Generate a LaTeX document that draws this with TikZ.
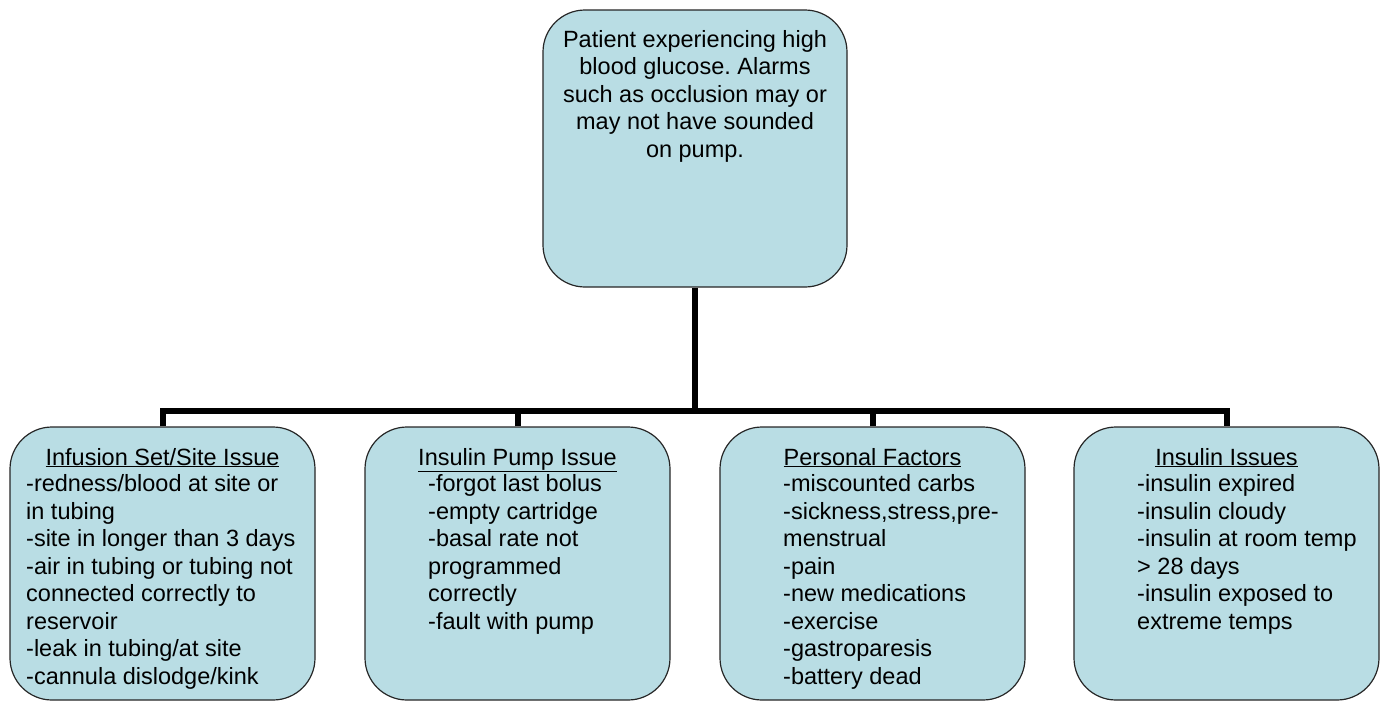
\documentclass[tikz,border=0pt]{standalone}
\usepackage{fontspec}
\setmainfont{Liberation Sans}
\frenchspacing
\definecolor{boxblue}{RGB}{185,221,228}
\begin{document}
\begin{tikzpicture}[x=1pt,y=-1pt,
  box/.style={draw=black!85, line width=1.2pt, fill=boxblue, rounded corners=42pt, inner sep=0pt, minimum width=305pt, minimum height=273pt},
  conn/.style={line width=6pt, draw=black, line join=miter},
  txt/.style={inner sep=0pt, font=\fontsize{23.5}{27.5}\selectfont}]
\useasboundingbox (0,0) rectangle (1385,702);
% boxes
\node[box, minimum width=304pt, minimum height=277pt] (top) at (695,148.5) {};
\node[box] (b1) at (162.5,563.5) {};
\node[box] (b2) at (517.5,563.5) {};
\node[box] (b3) at (872.5,563.5) {};
\node[box] (b4) at (1226.5,563.5) {};
% connectors
\coordinate (bar) at (695,411);
\draw[conn] (top.south) -- (bar);
\draw[conn] (b1.north) |- (bar) -| (b4.north);
\draw[conn] (b2.north) -- (b2.north |- bar);
\draw[conn] (b3.north) -- (b3.north |- bar);
% texts
\node[txt, align=center, anchor=north] (toptext) at (695,30)
  {Patient experiencing high\\blood glucose. Alarms\\such as occlusion may or\\may not have sounded\\on pump.};
\node[txt, anchor=base] (t1) at (162.5,465) {\underline{Infusion Set/Site Issue}};
\node[txt, anchor=base] (t2) at (517.5,465) {\underline{Insulin Pump Issue}};
\node[txt, anchor=base] (t3) at (872.5,465) {\underline{Personal Factors}};
\node[txt, anchor=base] (t4) at (1226.5,465) {\underline{Insulin Issues}};
\node[txt, align=left, anchor=north west] (l1) at (26,474.5)
  {-redness/blood at site or\\in tubing\\-site in longer than 3 days\\-air in tubing or tubing not\\connected correctly to\\reservoir\\-leak in tubing/at site\\-cannula dislodge/kink};
\node[txt, align=left, anchor=north west] (l2) at (428,474.5)
  {-forgot last bolus\\-empty cartridge\\-basal rate not\\programmed\\correctly\\-fault with pump};
\node[txt, align=left, anchor=north west] (l3) at (783,474.5)
  {-miscounted carbs\\-sickness,stress,pre-\\menstrual\\-pain\\-new medications\\-exercise\\-gastroparesis\\-battery dead};
\node[txt, align=left, anchor=north west] (l4) at (1137,474.5)
  {-insulin expired\\-insulin cloudy\\-insulin at room temp\\> 28 days\\-insulin exposed to\\extreme temps};
\end{tikzpicture}
\end{document}
